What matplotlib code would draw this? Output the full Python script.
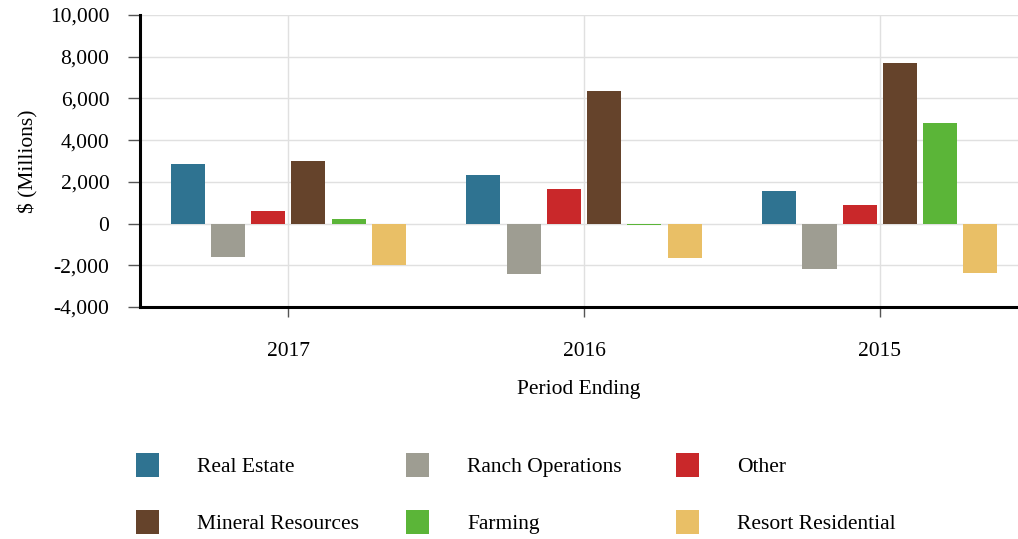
import matplotlib
matplotlib.use("Agg")
import matplotlib.pyplot as plt
import numpy as np
from matplotlib.ticker import FuncFormatter, MultipleLocator
from matplotlib.patches import Rectangle

periods = ["2017", "2016", "2015"]
series_names = ["Real Estate", "Ranch Operations", "Other",
                "Mineral Resources", "Farming", "Resort Residential"]
real_estate = [2850, 2330, 1570]
ranch_operations = [-1600, -2430, -2200]
other = [600, 1650, 900]
mineral_resources = [3000, 6350, 7700]
farming = [200, -60, 4830]
resort_residential = [-2000, -1640, -2350]
colors = ["#2f7391", "#9e9d92", "#c9282a", "#65432b", "#5bb538", "#e9bf66"]

series = [real_estate, ranch_operations, other, mineral_resources, farming, resort_residential]

plt.rcParams['font.family'] = ['Liberation Serif', 'DejaVu Serif']

W, H = 1018, 539
fig = plt.figure(figsize=(W / 100, H / 100), dpi=100)
ax = fig.add_axes([140 / W, 1 - 307 / H, (W - 140) / W, (307 - 15) / H])

x = np.arange(len(periods))
step = 0.136
width = 0.115
for i, (vals, c) in enumerate(zip(series, colors)):
    ax.bar(x + (i - 2.5) * step, vals, width=width, color=c, zorder=3)

ax.set_xlim(-0.501, 2.467)
ax.set_ylim(-4000, 10000)
ax.yaxis.set_major_locator(MultipleLocator(2000))
ax.yaxis.set_major_formatter(FuncFormatter(lambda v, p: f"{int(v):,}"))
ax.set_xticks(x)
ax.set_xticklabels(periods)
ax.grid(True, color="#e0e0e0", linewidth=1, zorder=0)
for s in ["top", "right"]:
    ax.spines[s].set_visible(False)
for s in ["left", "bottom"]:
    ax.spines[s].set_linewidth(2.2)
    ax.spines[s].set_color("black")
    ax.spines[s].set_zorder(4)
ax.tick_params(axis="y", length=9, width=1, color="#555555", labelsize=15.5, pad=13)
ax.tick_params(axis="x", length=7, width=1, color="#555555", labelsize=15.5, pad=18)
ax.set_ylabel("$ (Millions)", fontsize=15.5, labelpad=8)
ax.set_xlabel("Period Ending", fontsize=15.5, labelpad=14)

# legend laid out in a 3-column grid (row-major order)
for k, (name, c) in enumerate(zip(series_names, colors)):
    row, col = divmod(k, 3)
    x0 = 136 + col * 270
    yc = 465 + row * 57
    fig.add_artist(Rectangle((x0 / W, 1 - (yc + 12) / H), 23 / W, 24 / H,
                             transform=fig.transFigure, facecolor=c,
                             edgecolor="none"))
    fig.text((x0 + 61) / W, 1 - yc / H, name, fontsize=15.5,
             ha="left", va="center_baseline")

fig.savefig("out.png", dpi=100)
